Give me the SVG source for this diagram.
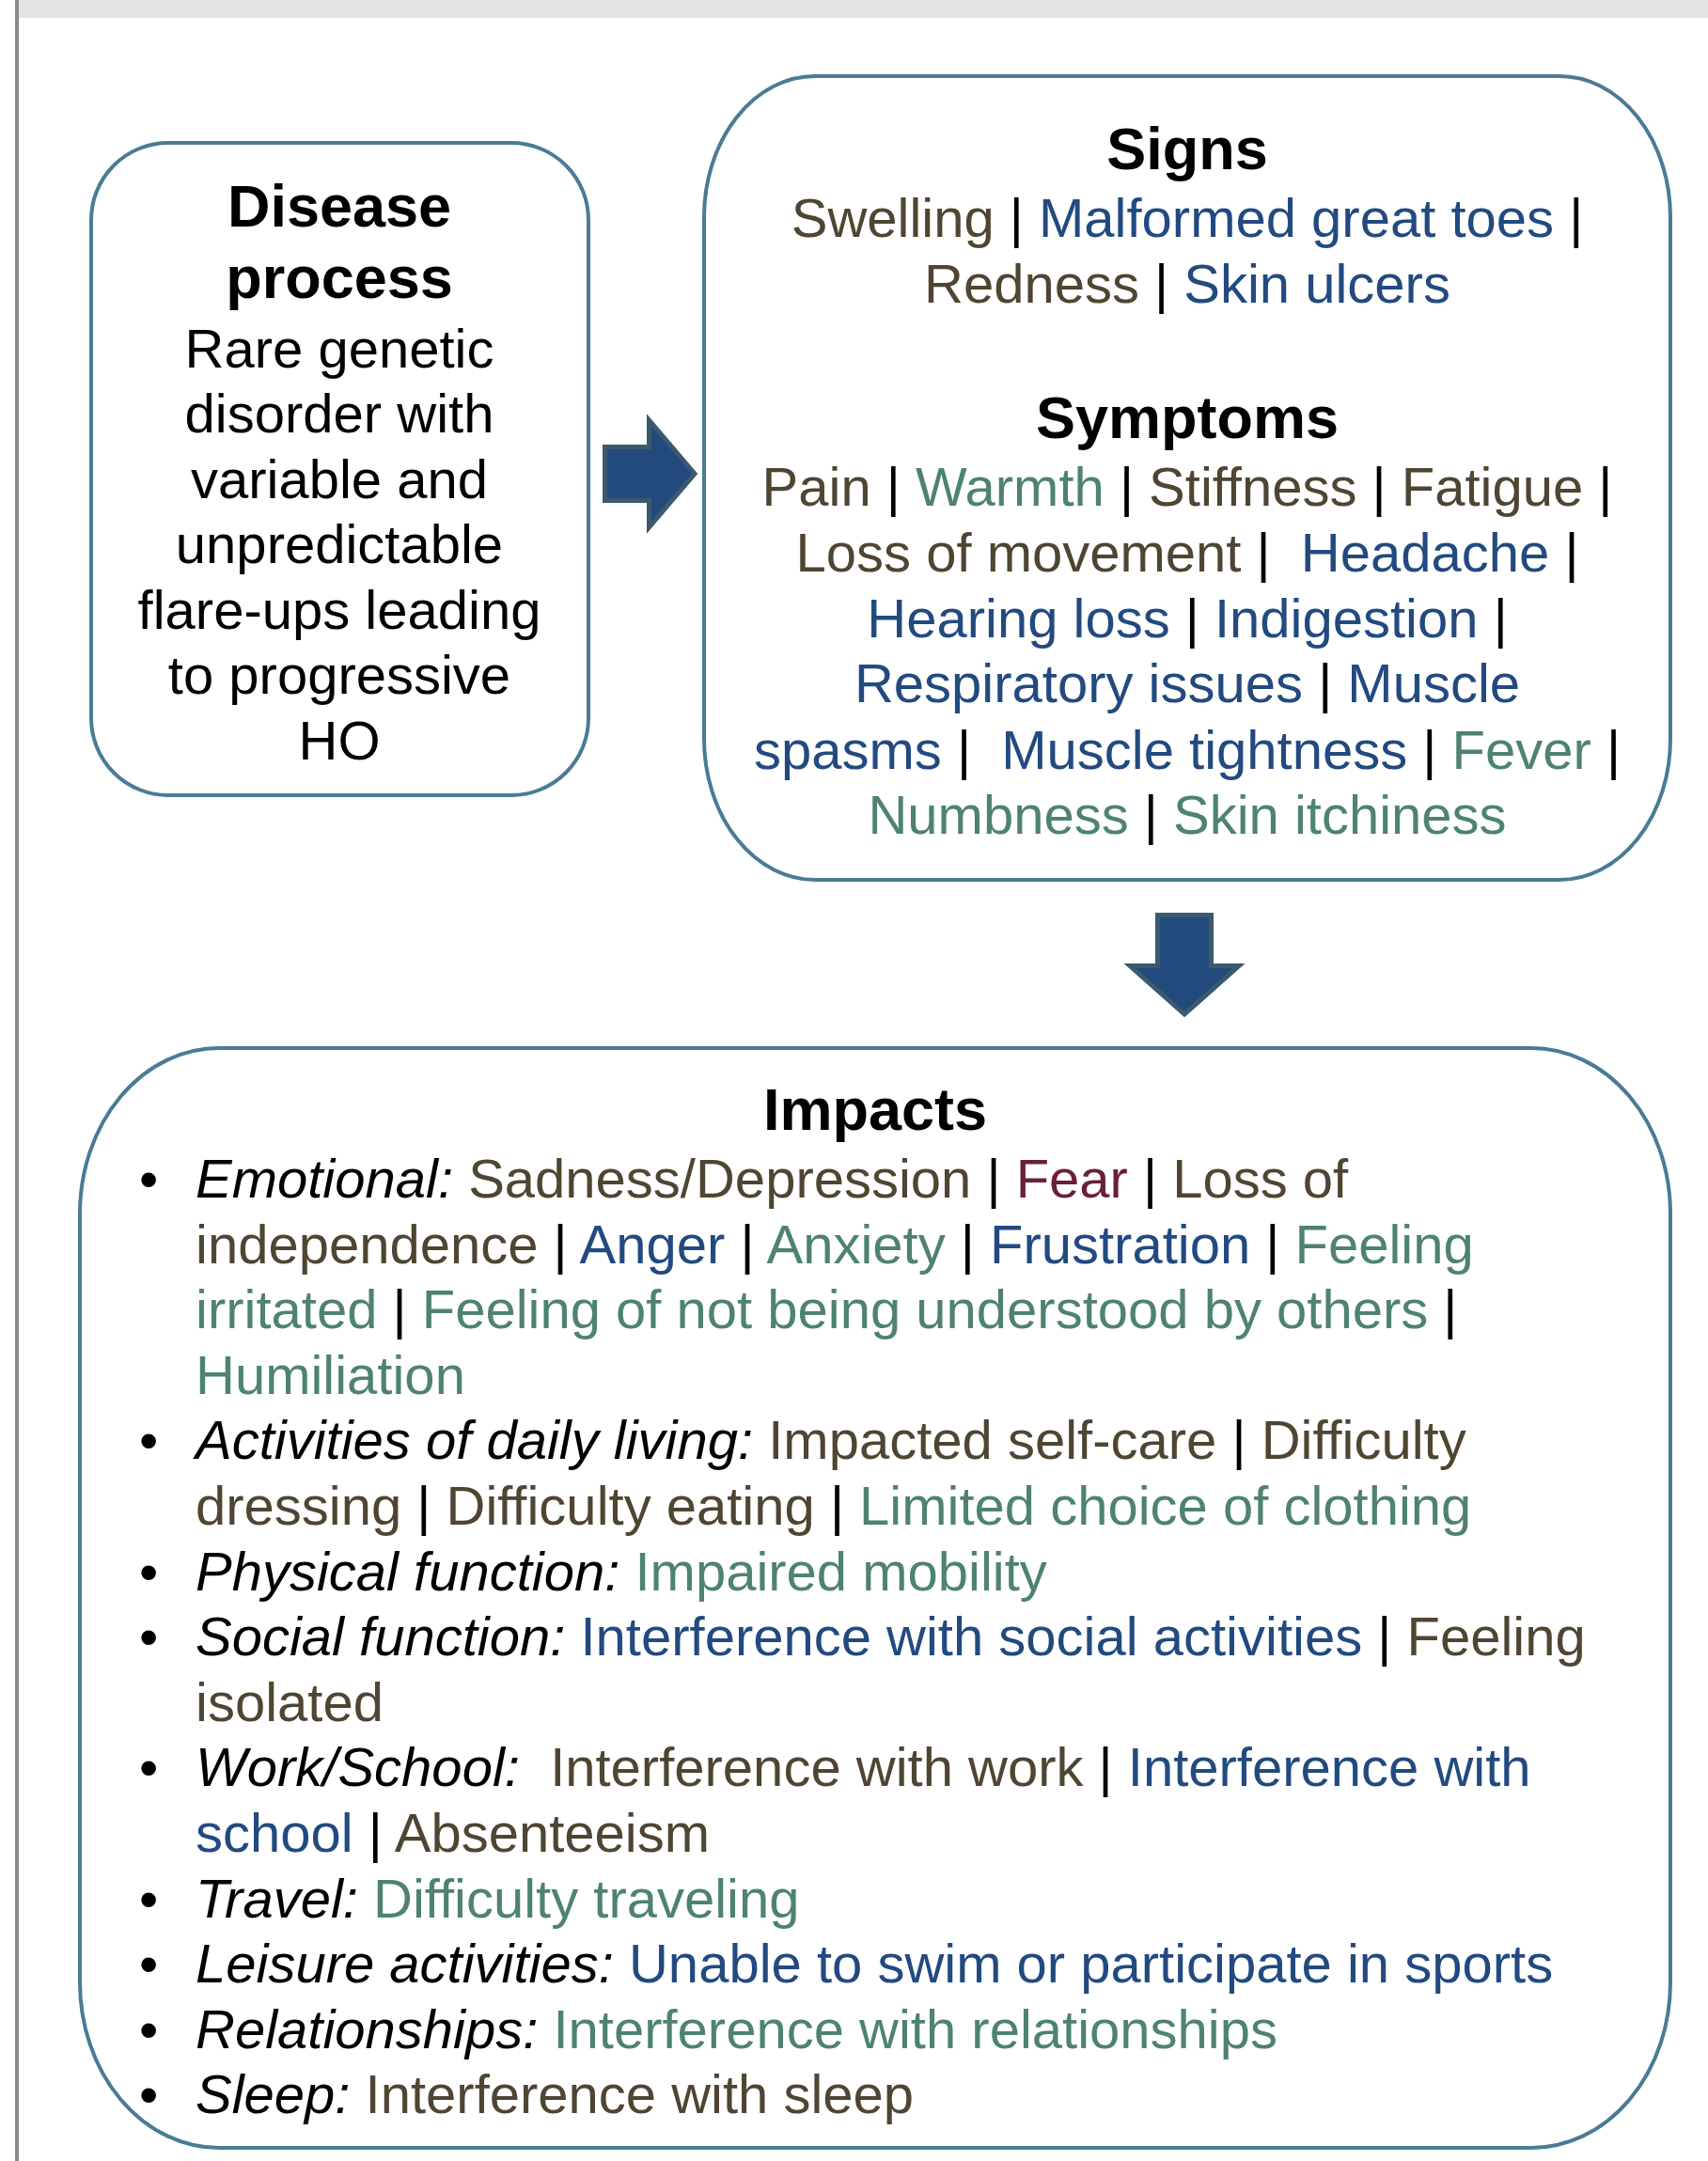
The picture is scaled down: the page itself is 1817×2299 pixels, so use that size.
<svg xmlns="http://www.w3.org/2000/svg" width="1817" height="2299" viewBox="0 0 1817 2299">
<style>
text{font-family:"Liberation Sans",Arial,sans-serif;font-size:58px;white-space:pre}
.t{font-weight:bold;font-size:63px;fill:#000}
.c{text-anchor:middle}
.k{fill:#000}
.b{fill:#4e4532}
.u{fill:#224a80}
.g{fill:#4e8272}
.m{fill:#6a1f3c}
.i{font-style:italic;fill:#000}
.box{fill:#fff;stroke:#4a7b96;stroke-width:4}
.arr{fill:#224a7c;stroke:#3b5a6d;stroke-width:5}
</style>
<rect x="0" y="0" width="1817" height="2299" fill="#fff"/>
<rect x="20" y="0" width="1797" height="19" fill="#e4e4e4"/>
<rect x="16" y="0" width="4" height="2299" fill="#8a8a8a"/>

<g id="connectors">
<path class="arr" d="M643.5,475.5 L690.5,475.5 L690.5,447 L739,504 L690.5,561 L690.5,532.5 L643.5,532.5 Z"/>
<path class="arr" d="M1231.5,973.5 L1288.5,973.5 L1288.5,1027.5 L1318,1027.5 L1260,1079 L1202,1027.5 L1231.5,1027.5 Z"/>
</g>

<g id="disease">
<rect class="box" x="97" y="152" width="529" height="694" rx="82" ry="82"/>
<text class="t c" x="361" y="241">Disease</text>
<text class="t c" x="361" y="317">process</text>
<text class="c k" x="361" y="391">Rare genetic</text>
<text class="c k" x="361" y="460">disorder with</text>
<text class="c k" x="361" y="530">variable and</text>
<text class="c k" x="361" y="599">unpredictable</text>
<text class="c k" x="361" y="669">flare-ups leading</text>
<text class="c k" x="361" y="738">to progressive</text>
<text class="c k" x="361" y="808">HO</text>
</g>

<g id="signs">
<rect class="box" x="749" y="81" width="1028" height="855" rx="118" ry="150"/>
<text class="t c" x="1263" y="180">Signs</text>
<text class="c" x="1263" y="252"><tspan class="b">Swelling</tspan><tspan class="k"> | </tspan><tspan class="u">Malformed great toes</tspan><tspan class="k"> |</tspan></text>
<text class="c" x="1263" y="322"><tspan class="b">Redness</tspan><tspan class="k"> | </tspan><tspan class="u">Skin ulcers</tspan></text>
<text class="t c" x="1263" y="466">Symptoms</text>
<text class="c" x="1263" y="538"><tspan class="b">Pain</tspan><tspan class="k"> | </tspan><tspan class="g">Warmth</tspan><tspan class="k"> | </tspan><tspan class="b">Stiffness</tspan><tspan class="k"> | </tspan><tspan class="b">Fatigue</tspan><tspan class="k"> |</tspan></text>
<text class="c" x="1263" y="608"><tspan class="b">Loss of movement</tspan><tspan class="k"> |  </tspan><tspan class="u">Headache</tspan><tspan class="k"> |</tspan></text>
<text class="c" x="1263" y="678"><tspan class="u">Hearing loss</tspan><tspan class="k"> | </tspan><tspan class="u">Indigestion</tspan><tspan class="k"> |</tspan></text>
<text class="c" x="1263" y="747"><tspan class="u">Respiratory issues</tspan><tspan class="k"> | </tspan><tspan class="u">Muscle</tspan></text>
<text class="c" x="1263" y="818"><tspan class="u">spasms</tspan><tspan class="k"> |  </tspan><tspan class="u">Muscle tightness</tspan><tspan class="k"> | </tspan><tspan class="g">Fever</tspan><tspan class="k"> |</tspan></text>
<text class="c" x="1263" y="887"><tspan class="g">Numbness</tspan><tspan class="k"> | </tspan><tspan class="g">Skin itchiness</tspan></text>
</g>

<g id="impacts">
<rect class="box" x="85" y="1115" width="1692" height="1170" rx="148" ry="176"/>
<text class="t c" x="931" y="1202">Impacts</text>
<g class="k">
<text x="148" y="1274">•</text>
<text x="148" y="1552.4">•</text>
<text x="148" y="1691.6">•</text>
<text x="148" y="1761.2">•</text>
<text x="148" y="1900.4">•</text>
<text x="148" y="2039.6">•</text>
<text x="148" y="2109.2">•</text>
<text x="148" y="2178.8">•</text>
<text x="148" y="2248.4">•</text>
</g>
<text x="208" y="1274"><tspan class="i">Emotional: </tspan><tspan class="b">Sadness/Depression</tspan><tspan class="k"> | </tspan><tspan class="m">Fear</tspan><tspan class="k"> | </tspan><tspan class="b">Loss of</tspan></text>
<text x="208" y="1343.6"><tspan class="b">independence</tspan><tspan class="k"> | </tspan><tspan class="u">Anger</tspan><tspan class="k"> | </tspan><tspan class="g">Anxiety</tspan><tspan class="k"> | </tspan><tspan class="u">Frustration</tspan><tspan class="k"> | </tspan><tspan class="g">Feeling</tspan></text>
<text x="208" y="1413.2"><tspan class="g">irritated</tspan><tspan class="k"> | </tspan><tspan class="g">Feeling of not being understood by others</tspan><tspan class="k"> |</tspan></text>
<text x="208" y="1482.8"><tspan class="g">Humiliation</tspan></text>
<text x="208" y="1552.4"><tspan class="i">Activities of daily living: </tspan><tspan class="b">Impacted self-care</tspan><tspan class="k"> | </tspan><tspan class="b">Difficulty</tspan></text>
<text x="208" y="1622"><tspan class="b">dressing</tspan><tspan class="k"> | </tspan><tspan class="b">Difficulty eating</tspan><tspan class="k"> | </tspan><tspan class="g">Limited choice of clothing</tspan></text>
<text x="208" y="1691.6"><tspan class="i">Physical function: </tspan><tspan class="g">Impaired mobility</tspan></text>
<text x="208" y="1761.2"><tspan class="i">Social function: </tspan><tspan class="u">Interference with social activities</tspan><tspan class="k"> | </tspan><tspan class="b">Feeling</tspan></text>
<text x="208" y="1830.8"><tspan class="b">isolated</tspan></text>
<text x="208" y="1900.4"><tspan class="i">Work/School:  </tspan><tspan class="b">Interference with work</tspan><tspan class="k"> | </tspan><tspan class="u">Interference with</tspan></text>
<text x="208" y="1970"><tspan class="u">school</tspan><tspan class="k"> | </tspan><tspan class="b">Absenteeism</tspan></text>
<text x="208" y="2039.6"><tspan class="i">Travel: </tspan><tspan class="g">Difficulty traveling</tspan></text>
<text x="208" y="2109.2"><tspan class="i">Leisure activities: </tspan><tspan class="u">Unable to swim or participate in sports</tspan></text>
<text x="208" y="2178.8"><tspan class="i">Relationships: </tspan><tspan class="g">Interference with relationships</tspan></text>
<text x="208" y="2248.4"><tspan class="i">Sleep: </tspan><tspan class="b">Interference with sleep</tspan></text>
</g>
</svg>
